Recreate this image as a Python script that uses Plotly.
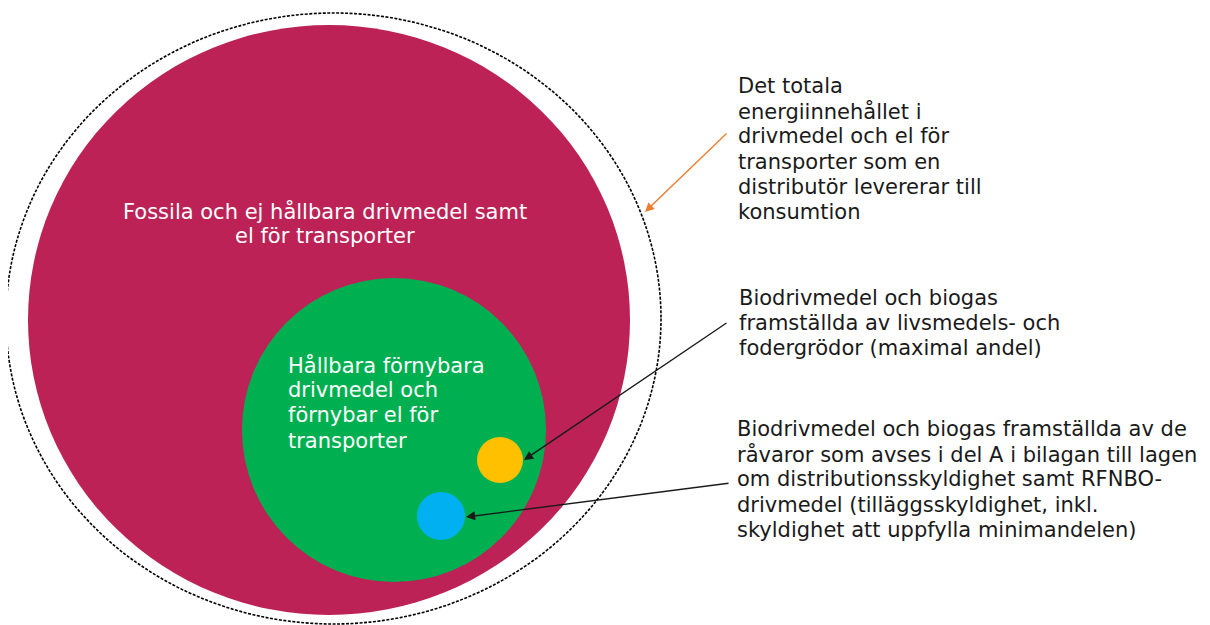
import plotly.graph_objects as go

# ---- data: labels of the nested-circle diagram ----
region_names = ["Total", "Fossil", "Hållbar", "Grödor", "Del A / RFNBO"]
region_colors = ["rgba(0,0,0,0)", "#BC2256", "#00B050", "#FFC000", "#00B0F0"]
# ellipse geometry in pixel space: (cx, cy, rx, ry)
region_cx = [333.5, 329, 394, 500, 441]
region_cy = [318.5, 320, 430, 460, 516]
region_rx = [327.5, 301, 152, 23, 24]
region_ry = [305.5, 295, 152, 23, 24]

inner_labels = [
    "Fossila och ej hållbara drivmedel samt<br>el för transporter",
    "Hållbara förnybara<br>drivmedel och<br>förnybar el för<br>transporter",
]
outer_labels = [
    "Det totala<br>energiinnehållet i<br>drivmedel och el för<br>transporter som en<br>distributör levererar till<br>konsumtion",
    "Biodrivmedel och biogas<br>framställda av livsmedels- och<br>fodergrödor (maximal andel)",
    "Biodrivmedel och biogas framställda av de<br>råvaror som avses i del A i bilagan till lagen<br>om distributionsskyldighet samt RFNBO-<br>drivmedel (tilläggsskyldighet, inkl.<br>skyldighet att uppfylla minimandelen)",
]

W, H = 1210, 625
OFF = 8  # page body margin
FONT = "DejaVu Sans"
FS = 21
LS = 25.2

fig = go.Figure()
fig.add_trace(go.Scatter(x=[OFF, W + OFF], y=[OFF, H + OFF], mode="markers",
                         marker=dict(opacity=0), hoverinfo="skip", showlegend=False))

shapes = []
for i, name in enumerate(region_names):
    s = dict(type="circle", xref="x", yref="y",
             x0=region_cx[i] - region_rx[i], x1=region_cx[i] + region_rx[i],
             y0=region_cy[i] - region_ry[i], y1=region_cy[i] + region_ry[i],
             layer="below")
    if i == 0:
        s.update(fillcolor="rgba(0,0,0,0)", line=dict(color="#000000", width=1.6, dash="3px,1.5px"))
    else:
        s.update(fillcolor=region_colors[i], line=dict(width=0))
    shapes.append(s)

annotations = []


def add_block(text, x, y0, anchor, color):
    for k, line in enumerate(text.split("<br>")):
        annotations.append(dict(x=x, y=y0 + k * LS, text=line, showarrow=False,
                                xanchor=anchor, yanchor="middle", align=anchor,
                                font=dict(family=FONT, size=FS, color=color)))


add_block(inner_labels[0], 325, 211, "center", "white")
add_block(inner_labels[1], 286, 365, "left", "white")
out_x = [736, 737, 735]
out_y = [86, 298, 429]
for t, x, y in zip(outer_labels, out_x, out_y):
    add_block(t, x, y, "left", "#1a1a1a")

# arrows (tail -> head)
arrows = [
    ((728, 132), (645, 212), "#ED7D31"),
    ((728, 322), (524, 460), "#1a1a1a"),
    ((730, 483), (466, 517), "#1a1a1a"),
]
for (tx, ty), (hx, hy), c in arrows:
    annotations.append(dict(x=hx, y=hy, ax=tx, ay=ty, xref="x", yref="y",
                            axref="x", ayref="y", text="", showarrow=True,
                            arrowhead=2, arrowsize=1.3, arrowwidth=1.4, arrowcolor=c))

fig.update_layout(
    width=W, height=H, margin=dict(l=0, r=0, t=0, b=0),
    paper_bgcolor="white", plot_bgcolor="white",
    xaxis=dict(range=[OFF, W + OFF], visible=False, fixedrange=True),
    yaxis=dict(range=[H + OFF, OFF], visible=False, fixedrange=True),
    shapes=shapes, annotations=annotations, showlegend=False,
)
fig.write_html("out.html")
